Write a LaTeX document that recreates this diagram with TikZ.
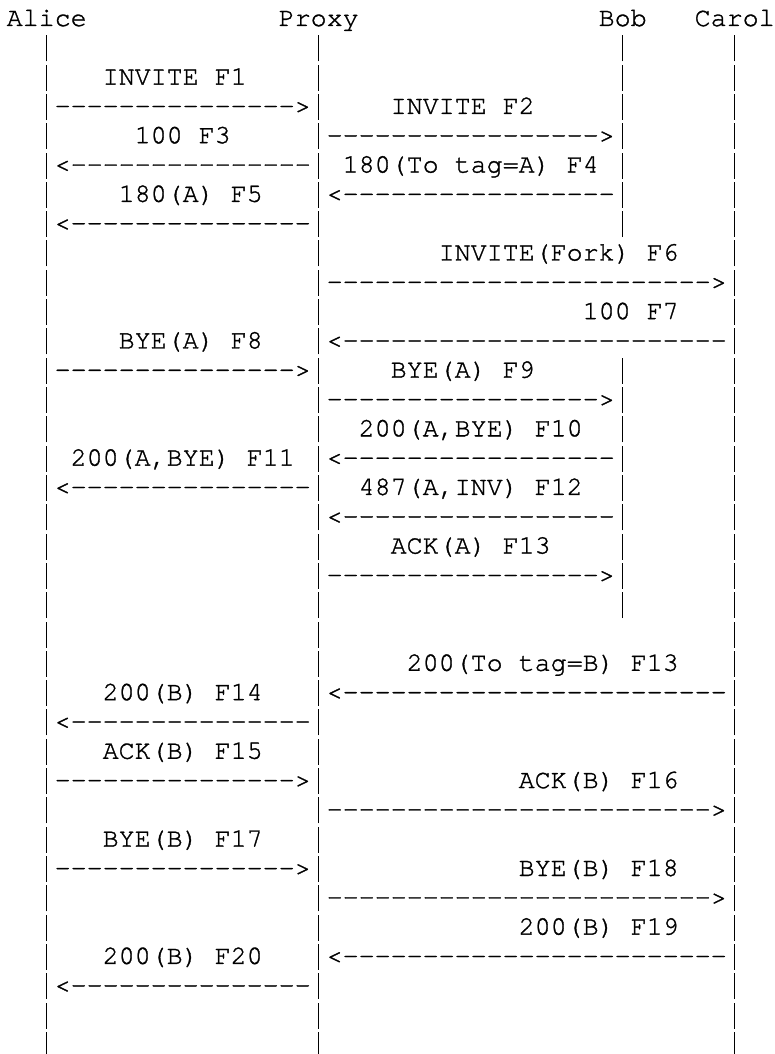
\documentclass[tikz,border=0pt]{standalone}
\usepackage{fontspec}
\newfontfamily\curfont{TeX Gyre Cursor}[WordSpace={1,0,0},FakeBold=1.2]
\ExplSyntaxOn
\NewDocumentCommand\myrep{mm}{\prg_replicate:nn{#1}{#2}}
\ExplSyntaxOff
\tikzset{txt/.style={anchor=base west, inner sep=0pt, outer sep=0pt,
  font=\curfont\fontsize{26.67}{29.31}\selectfont, text=black}}
% one character cell = 16 x 29.31 units; row r, column k
\newcommand\vb{\makebox[16pt][c]{\rule[-6pt]{1.45pt}{26pt}}}
\newcommand\cellat[3]{\node[txt] (c#1-#2) at ({6.7+16*#2},{-26-29.31*#1}) {#3};}
\newcommand\barsat[2]{\foreach \cc in {#2} {\cellat{#1}{\cc}{\vb}}}
\def\xAPr{\vb\myrep{15}{-}>\vb}
\def\xAPl{\vb<\myrep{15}{-}\vb}
\def\xPBr{\vb\myrep{17}{-}>\vb}
\def\xPBl{\vb<\myrep{17}{-}\vb}
\def\xPCr{\vb\myrep{24}{-}>\vb}
\def\xPCl{\vb<\myrep{24}{-}\vb}
\begin{document}
\begin{tikzpicture}[x=1pt,y=1pt]
\useasboundingbox (0,0) rectangle (775,-1054);
% row 0
\cellat{0}{0}{Alice} \cellat{0}{17}{Proxy} \cellat{0}{37}{Bob} \cellat{0}{43}{Carol}
% rows
\barsat{1}{2,19,38,45}
\barsat{2}{2,19,38,45} \cellat{2}{6}{INVITE F1}
\cellat{3}{2}{\xAPr} \cellat{3}{24}{INVITE F2} \barsat{3}{38,45}
\barsat{4}{2,45} \cellat{4}{8}{100 F3} \cellat{4}{19}{\xPBr}
\cellat{5}{2}{\xAPl} \cellat{5}{21}{180(To tag=A) F4} \barsat{5}{38,45}
\barsat{6}{2,45} \cellat{6}{7}{180(A) F5} \cellat{6}{19}{\xPBl}
\cellat{7}{2}{\xAPl} \barsat{7}{38,45}
\barsat{8}{2,19,45} \cellat{8}{27}{INVITE(Fork) F6}
\barsat{9}{2} \cellat{9}{19}{\xPCr}
\barsat{10}{2,19,45} \cellat{10}{36}{100 F7}
\barsat{11}{2} \cellat{11}{7}{BYE(A) F8} \cellat{11}{19}{\xPCl}
\cellat{12}{2}{\xAPr} \cellat{12}{24}{BYE(A) F9} \barsat{12}{38,45}
\barsat{13}{2,45} \cellat{13}{19}{\xPBr}
\barsat{14}{2,19,38,45} \cellat{14}{22}{200(A,BYE) F10}
\barsat{15}{2,45} \cellat{15}{4}{200(A,BYE) F11} \cellat{15}{19}{\xPBl}
\cellat{16}{2}{\xAPl} \cellat{16}{22}{487(A,INV) F12} \barsat{16}{38,45}
\barsat{17}{2,45} \cellat{17}{19}{\xPBl}
\barsat{18}{2,19,38,45} \cellat{18}{24}{ACK(A) F13}
\barsat{19}{2,45} \cellat{19}{19}{\xPBr}
\barsat{20}{2,19,38,45}
\barsat{21}{2,19,45}
\barsat{22}{2,19,45} \cellat{22}{25}{200(To tag=B) F13}
\barsat{23}{2} \cellat{23}{6}{200(B) F14} \cellat{23}{19}{\xPCl}
\cellat{24}{2}{\xAPl} \barsat{24}{45}
\barsat{25}{2,19,45} \cellat{25}{6}{ACK(B) F15}
\cellat{26}{2}{\xAPr} \cellat{26}{32}{ACK(B) F16} \barsat{26}{45}
\barsat{27}{2} \cellat{27}{19}{\xPCr}
\barsat{28}{2,19,45} \cellat{28}{6}{BYE(B) F17}
\cellat{29}{2}{\xAPr} \cellat{29}{32}{BYE(B) F18} \barsat{29}{45}
\barsat{30}{2} \cellat{30}{19}{\xPCr}
\barsat{31}{2,19,45} \cellat{31}{32}{200(B) F19}
\barsat{32}{2} \cellat{32}{6}{200(B) F20} \cellat{32}{19}{\xPCl}
\cellat{33}{2}{\xAPl} \barsat{33}{45}
\barsat{34}{2,19,45}
\barsat{35}{2,19,45}
\end{tikzpicture}
\end{document}
